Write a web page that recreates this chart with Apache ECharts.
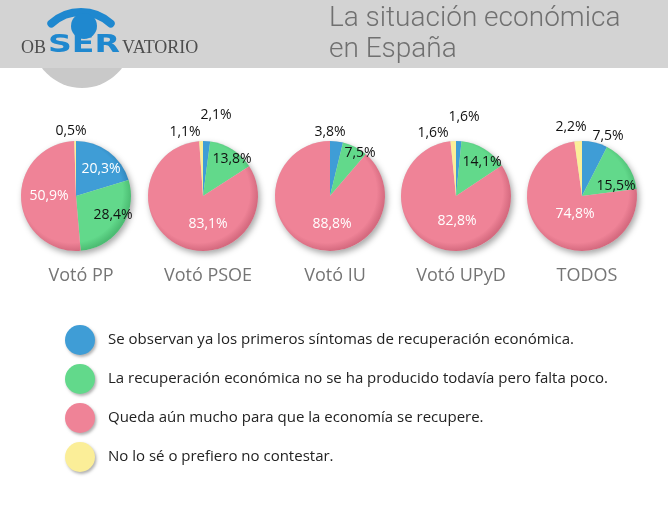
<!DOCTYPE html>
<html>
<head>
<meta charset="utf-8">
<script src="https://cdn.jsdelivr.net/npm/echarts@6/dist/echarts.min.js"></script>
<style>
html,body{margin:0;padding:0;background:#fff;}
#chart{width:668px;height:510px;}
</style>
</head>
<body>
<div id="chart"></div>
<script>
// ---- data ----
const categories = ['Votó PP', 'Votó PSOE', 'Votó IU', 'Votó UPyD', 'TODOS'];
const answers = [
  'Se observan ya los primeros síntomas de recuperación económica.',
  'La recuperación económica no se ha producido todavía pero falta poco.',
  'Queda aún mucho para que la economía se recupere.',
  'No lo sé o prefiero no contestar.'
];
const primerosSintomas = [20.3, 2.1, 3.8, 1.6, 7.5];
const faltaPoco = [28.4, 13.8, 7.5, 14.1, 15.5];
const quedaMucho = [50.9, 83.1, 88.8, 82.8, 74.8];
const noSabe = [0.5, 1.1, 0, 1.6, 2.2];
const titleLines = ['La situación económica', 'en España'];

// ---- styling ----
const seriesValues = [primerosSintomas, faltaPoco, quedaMucho, noSabe];
const baseColors = ['#3f9dd6', '#62d98b', '#ef8397', '#fbee98'];
const shadeColors = ['#2f82b8', '#4cbd73', '#d56a7f', '#e6d57f'];
const centersX = [76, 203, 330, 456, 582];
const centerY = 196;
const R = 55;
// label placement relative to each pie centre (px)
const labelOffsets = [
  [[25, -27], [37, 19], [-27, 0], [-5, -65]],
  [[13, -81], [29, -37], [5, 28], [-18, -64]],
  [[0, -64], [30, -43], [2, 28], [0, -64]],
  [[8, -79], [26, -34], [1, 25], [-23, -63]],
  [[26, -60], [34, -10], [-7, 18], [-11, -69]]
];
const fmt = v => v.toFixed(1).replace('.', ',') + '%';

const chart = echarts.init(document.getElementById('chart'), null, {renderer: 'canvas'});

const bgSeries = centersX.map(cx => ({
  type: 'pie', center: [cx, centerY], radius: R, silent: true, z: 1,
  label: {show: false}, labelLine: {show: false},
  itemStyle: {color: '#d8d8d8', shadowBlur: 6, shadowColor: 'rgba(0,0,0,0.35)', shadowOffsetX: 2, shadowOffsetY: 3},
  data: [{value: 1, name: 'fondo'}]
}));

const pieSeries = categories.map((cat, i) => {
  const cx = centersX[i];
  return {
    type: 'pie', name: cat, center: [cx, centerY], radius: R,
    startAngle: 90, clockwise: true, avoidLabelOverlap: false, silent: true, z: 3,
    label: {show: true, position: 'inside', fontSize: 14, fontFamily: 'Open Sans',
      formatter: p => fmt(p.value)},
    labelLine: {show: false},
    labelLayout: p => {
      const o = labelOffsets[i][p.dataIndex];
      return {x: cx + o[0], y: centerY + o[1], align: 'center', verticalAlign: 'middle'};
    },
    data: seriesValues.map((vals, k) => {
      const v = vals[i];
      const o = labelOffsets[i][k];
      const inside = Math.hypot(o[0], o[1]) < 50;
      const col = inside ? (k === 1 ? '#111' : '#fff') : '#111';
      return {
        name: answers[k], value: v,
        itemStyle: {color: {type: 'radial', x: cx - 4, y: centerY - 4, r: R + 4, global: true,
          colorStops: [{offset: 0, color: baseColors[k]}, {offset: 0.86, color: baseColors[k]}, {offset: 1, color: shadeColors[k]}]}},
        label: {show: v > 0, color: col}
      };
    })
  };
});

const option = {
  animation: false,
  backgroundColor: '#ffffff',
  graphic: [
    {type: 'circle', shape: {cx: 82, cy: 38, r: 50}, style: {fill: '#c9c9c9'}, z: 0},
    {type: 'rect', shape: {x: 0, y: 0, width: 668, height: 68}, style: {fill: '#d3d3d3'}, z: 1},
    {type: 'arc', shape: {cx: 81, cy: 56, r: 44, startAngle: -2.31, endAngle: -0.83, clockwise: true}, style: {stroke: '#1f88cf', lineWidth: 8, lineCap: 'round', fill: null}, z: 2},
    {type: 'circle', shape: {cx: 84, cy: 26, r: 13}, style: {fill: '#1f88cf'}, z: 2},
    {type: 'text', x: 21, y: 57, style: {text: 'OB', font: '18px "Liberation Serif"', fill: '#4d4d4d', textVerticalAlign: 'bottom'}, z: 2},
    {type: 'text', x: 48, y: 58, scaleX: 1.38, style: {text: 'SER', font: 'bold 24px "DejaVu Sans"', fill: '#1f88cf', textVerticalAlign: 'bottom'}, z: 2},
    {type: 'text', x: 122, y: 57, style: {text: 'VATORIO', font: '18px "Liberation Serif"', fill: '#4d4d4d', textVerticalAlign: 'bottom'}, z: 2},
    {type: 'text', x: 329, y: 5, style: {text: titleLines[0], font: '300 28px Roboto', fill: '#707070'}, z: 2},
    {type: 'text', x: 329, y: 36, style: {text: titleLines[1], font: '300 28px Roboto', fill: '#707070'}, z: 2}
  ],
  title: categories.map((c, i) => ({
    text: c, left: centersX[i], top: 262, textAlign: 'center',
    textStyle: {fontSize: 18, fontWeight: 'normal', fontFamily: 'Open Sans', color: '#757575'}
  })),
  legend: {
    orient: 'vertical', left: 60, top: 320, itemWidth: 30, itemHeight: 30, itemGap: 9,
    icon: 'circle', selectedMode: false,
    itemStyle: {shadowBlur: 3, shadowColor: 'rgba(0,0,0,0.3)', shadowOffsetX: 1.5, shadowOffsetY: 2},
    textStyle: {fontSize: 15, fontFamily: 'Open Sans', color: '#222', padding: [0, 0, 0, 8]},
    data: answers.map((a, k) => ({name: a, itemStyle: {color: baseColors[k]}}))
  },
  series: [...bgSeries, ...pieSeries]
};
chart.setOption(option);
</script>
</body>
</html>
